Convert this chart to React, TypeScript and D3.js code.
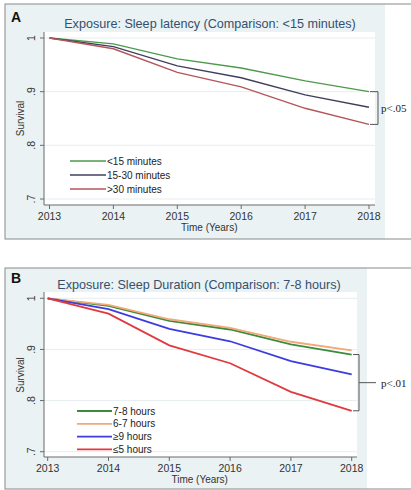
import React from 'react';
import * as d3 from 'd3';

const years = [2013, 2014, 2015, 2016, 2017, 2018];
const yTicks = [0.7, 0.8, 0.9, 1];

const latencyNames = ['<15 minutes', '15-30 minutes', '>30 minutes'];
const latencyUnder15 = [1, 0.989, 0.961, 0.944, 0.92, 0.9];
const latency15to30 = [1, 0.984, 0.948, 0.926, 0.894, 0.871];
const latencyOver30 = [1, 0.98, 0.936, 0.909, 0.869, 0.839];
const latencyColors = ['#4c9a4a', '#3f3f5c', '#b4555a'];

const durationNames = ['7-8 hours', '6-7 hours', '≥9 hours', '≤5 hours'];
const duration7to8 = [1, 0.985, 0.956, 0.939, 0.91, 0.89];
const duration6to7 = [1, 0.987, 0.959, 0.942, 0.915, 0.898];
const duration9plus = [1, 0.979, 0.94, 0.916, 0.877, 0.851];
const duration5less = [1, 0.97, 0.908, 0.873, 0.817, 0.78];
const durationColors = ['#3a8c3c', '#f2a878', '#3c3ce0', '#e0393e'];

const FONT = 'Liberation Sans, Arial, sans-serif';
const BG = '#eaf2f3';

type PanelProps = {
  top: number;
  bottom: number;
  blueRight: number;
  plot: { x0: number; x1: number; y0: number; y1: number };
  xRange: [number, number];
  yRange: [number, number];
  letter: string;
  title: string;
  titleX: number;
  titleY: number;
  names: string[];
  series: number[][];
  colors: string[];
  lineWidth: number;
  legend: { x0: number; x1: number; y: number; step: number };
  bracket: { x0: number; x1: number; from: number; to: number; tail: number };
  pLabel: string;
  pX: number;
};

function Panel(p: PanelProps) {
  const x = d3.scaleLinear().domain([2013, 2018]).range(p.xRange);
  const y = d3.scaleLinear().domain([0.7, 1]).range(p.yRange);
  const line = d3
    .line<number>()
    .x((_, i) => x(years[i]))
    .y((d) => y(d));

  const bTop = y(p.series[0][5]);
  const bBot = y(p.series[p.bracket.to][5]);
  const bMid = (bTop + bBot) / 2;

  return (
    <g>
      <rect x={5} y={p.top} width={p.blueRight - 5} height={p.bottom - p.top} fill={BG} />
      <rect x={5} y={p.top} width={430} height={p.bottom - p.top} fill="none" stroke="#8a8a8a" strokeWidth={1} />
      <rect x={p.plot.x0} y={p.plot.y0} width={p.plot.x1 - p.plot.x0} height={p.plot.y1 - p.plot.y0} fill="#fff" />
      {yTicks.map((t) => (
        <line key={'g' + t} x1={p.plot.x0} x2={p.plot.x1} y1={y(t)} y2={y(t)} stroke="#e6eef0" strokeWidth={1} />
      ))}
      <line x1={p.plot.x0} x2={p.plot.x0} y1={p.plot.y0} y2={p.plot.y1} stroke="#6a6a6a" strokeWidth={1} />
      <line x1={p.plot.x0} x2={p.plot.x1} y1={p.plot.y1} y2={p.plot.y1} stroke="#6a6a6a" strokeWidth={1} />
      {yTicks.map((t) => (
        <g key={'y' + t}>
          <line x1={p.plot.x0 - 4} x2={p.plot.x0} y1={y(t)} y2={y(t)} stroke="#6a6a6a" />
          <text
            transform={`translate(${p.plot.x0 - 9},${y(t)}) rotate(-90)`}
            textAnchor="middle"
            fontSize={10.5}
            fontFamily={FONT}
            fill="#333"
          >
            {t === 1 ? '1' : d3.format('.1f')(t).replace(/^0/, '')}
          </text>
        </g>
      ))}
      {years.map((yr) => (
        <g key={'x' + yr}>
          <line x1={x(yr)} x2={x(yr)} y1={p.plot.y1} y2={p.plot.y1 + 4} stroke="#6a6a6a" />
          <text x={x(yr)} y={p.plot.y1 + 15} textAnchor="middle" fontSize={10.5} fontFamily={FONT} fill="#333">
            {yr}
          </text>
        </g>
      ))}
      <text x={(x(2013) + x(2018)) / 2} y={p.plot.y1 + 26} textAnchor="middle" fontSize={10} fontFamily={FONT} fill="#333">
        Time (Years)
      </text>
      <text
        transform={`translate(24,${(y(0.7) + y(1)) / 2}) rotate(-90)`}
        textAnchor="middle"
        fontSize={10}
        fontFamily={FONT}
        fill="#333"
      >
        Survival
      </text>
      <text x={11} y={p.titleY - 6} fontSize={14} fontWeight="bold" fontFamily={FONT} fill="#111">
        {p.letter}
      </text>
      <text x={p.titleX} y={p.titleY} textAnchor="middle" fontSize={12.6} fontFamily={FONT} fill="#34506e">
        {p.title}
      </text>
      {p.series.map((s, i) => (
        <path key={'s' + i} d={line(s) || ''} fill="none" stroke={p.colors[i]} strokeWidth={p.lineWidth} />
      ))}
      {p.names.map((n, i) => {
        const ly = p.legend.y + i * p.legend.step;
        return (
          <g key={'l' + i}>
            <line x1={p.legend.x0} x2={p.legend.x1} y1={ly} y2={ly} stroke={p.colors[i]} strokeWidth={p.lineWidth} />
            <text x={p.legend.x1 + 1} y={ly + 3.5} fontSize={10} fontFamily={FONT} fill="#222">
              {n}
            </text>
          </g>
        );
      })}
      <path
        d={`M${p.bracket.x0},${bTop}H${p.bracket.x1}V${bBot}H${p.bracket.x0}`}
        fill="none"
        stroke="#555"
        strokeWidth={1}
      />
      {p.bracket.tail > 0 && (
        <line x1={p.bracket.x1} x2={p.bracket.x1 + p.bracket.tail} y1={bMid} y2={bMid} stroke="#555" strokeWidth={1} />
      )}
      <text x={p.pX} y={bMid + 4} fontSize={11} fontFamily="Liberation Serif, Times New Roman, serif" fill="#222">
        {p.pLabel}
      </text>
    </g>
  );
}

export default function App() {
  return (
    <svg
      width={411}
      height={490}
      style={{ position: 'fixed', left: 0, top: 0, background: '#fff' }}
    >
      <Panel
        top={4}
        bottom={239}
        blueRight={385}
        plot={{ x0: 44, x1: 375, y0: 32, y1: 205 }}
        xRange={[49.5, 369]}
        yRange={[199, 38]}
        letter="A"
        title="Exposure: Sleep latency (Comparison: <15 minutes)"
        titleX={210}
        titleY={28}
        names={latencyNames}
        series={[latencyUnder15, latency15to30, latencyOver30]}
        colors={latencyColors}
        lineWidth={1.4}
        legend={{ x0: 70, x1: 106, y: 161, step: 14 }}
        bracket={{ x0: 370, x1: 378, from: 0, to: 2, tail: 0 }}
        pLabel="p<.05"
        pX={381}
      />
      <Panel
        top={268}
        bottom={489}
        blueRight={367}
        plot={{ x0: 44, x1: 357, y0: 292, y1: 457 }}
        xRange={[47.7, 351.7]}
        yRange={[451.7, 298.3]}
        letter="B"
        title="Exposure: Sleep Duration (Comparison: 7-8 hours)"
        titleX={199}
        titleY={289}
        names={durationNames}
        series={[duration7to8, duration6to7, duration9plus, duration5less]}
        colors={durationColors}
        lineWidth={1.8}
        legend={{ x0: 77, x1: 112, y: 411, step: 12.8 }}
        bracket={{ x0: 353, x1: 359, from: 0, to: 3, tail: 17 }}
        pLabel="p<.01"
        pX={381}
      />
    </svg>
  );
}
